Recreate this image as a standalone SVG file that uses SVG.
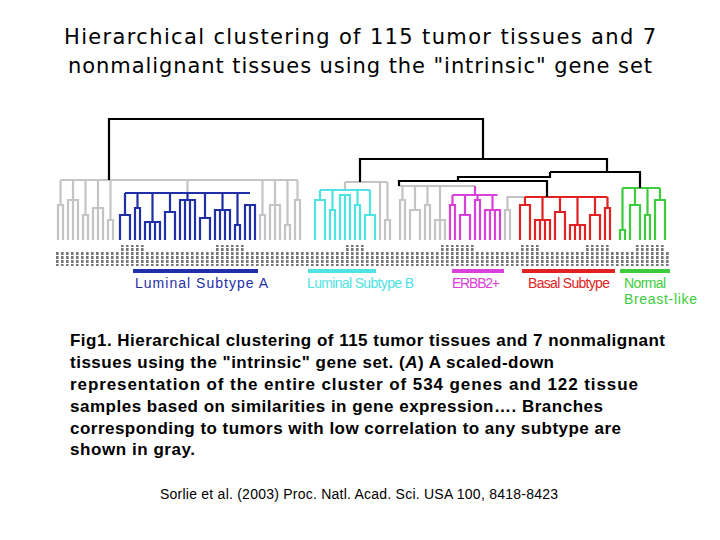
<svg xmlns="http://www.w3.org/2000/svg" width="720" height="540" viewBox="0 0 720 540">
<style>
.t{font-family:"DejaVu Sans",sans-serif;font-size:21px;fill:#000}
.c{font-family:"Liberation Sans",Arial,sans-serif;font-size:17px;font-weight:bold;fill:#000}
.l{font-family:"Liberation Sans",Arial,sans-serif;font-size:14px}
.d{fill:none;stroke-width:2.2}
.g{stroke:#c4c4c4}.b{stroke:#1f2fa8}.cy{stroke:#4fe3e3}.m{stroke:#d940d9}.r{stroke:#e02222}.gr{stroke:#3ccc3c}.k{stroke:#000}
</style>
<defs>
<pattern id="lbl" width="5" height="4" patternUnits="userSpaceOnUse"><rect x="1" y="0" width="2.6" height="3" fill="#777"/></pattern>
</defs>
<rect width="720" height="540" fill="#fff"/>
<text class="t" x="360" y="44" text-anchor="middle" textLength="592">Hierarchical clustering of 115 tumor tissues and 7</text>
<text class="t" x="360" y="73" text-anchor="middle" textLength="584">nonmalignant tissues using the "intrinsic" gene set</text>
<g id="dendrogram">
<path class="d g" d="M60.5 180H297.5M58 240V205H63V240M60.5 205V180M68 240V200H78V240M73 200V240M73 200V180M83 240V215H88V240M85.5 215V180M93 240V208H103V240M98 208V240M98 208V180M108 240V220H113V240M110.5 220V180M260 240V215H265V240M262.5 215V180M270 240V205H280V240M275 205V240M275 205V180M285 240V225H290V240M287.5 225V180M295 240V200H300V240M297.5 200V180M187.5 193V180"/>
<path class="d b" d="M125 193H250M120 240V215H130V240M125 215V193M135 240V208H140V240M137.5 208V193M145 240V222H160V240M150 222V240M155 222V240M152.5 222V193M165 240V212H175V240M170 212V193M180 240V200H195V240M185 200V240M190 200V240M187.5 200V193M200 240V218H210V240M205 218V193M215 240V210H230V240M220 210V240M225 210V240M222.5 210V193M235 240V225H240V240M237.5 225V193M245 240V205H255V240M250 205V240"/>
<path class="d g" d="M345 182H387.5M380 240V182M385 240V220H390V240M387.5 220V182M345 190V182"/>
<path class="d cy" d="M320 190H370M315 240V200H325V240M320 200V190M330 240V210H335V240M332.5 210V190M340 240V195H350V240M345 195V240M355 240V205H360V240M357.5 205V190M365 240V215H375V240M370 215V190"/>
<path class="d g" d="M399 186H475M400 240V200H405V240M402.5 200V186M410 240V210H420V240M415 210V186M425 240V205H430V240M427.5 205V186M435 240V220H445V240M440 220V240M440 220V186M505 240V210H510V240M507.5 210V197H525"/>
<path class="d m" d="M452.5 195H497.5M475 195V186M450 240V205H455V240M452.5 205V195M460 240V215H470V240M465 215V195M475 240V200H480V240M477.5 200V195M485 240V210H500V240M490 210V240M495 210V240M492.5 210V195"/>
<path class="d r" d="M525 197H607.5M520 240V205H530V240M525 205V197M535 240V220H550V240M540 220V240M545 220V240M542.5 220V197M555 240V212H565V240M560 212V197M570 240V225H585V240M575 225V240M580 225V240M577.5 225V197M590 240V215H600V240M595 215V197M605 240V208H610V240M607.5 208V197"/>
<path class="d gr" d="M622.5 188H660M620 240V230H625V240M622.5 230V188M630 240V205H640V240M635 205V188M645 240V215H650V240M647.5 215V188M655 240V200H665V240M660 200V188"/>
<path class="d k" d="M109 180V119H483V159M360 182V159H607V172M550 172H640V188M550 172V177H458V181M399 186V181H547V197"/>
</g>
<g id="labels">
<rect x="56" y="252" width="614" height="14" fill="url(#lbl)"/>
<rect x="120" y="245" width="25" height="7" fill="url(#lbl)"/>
<rect x="215" y="245" width="30" height="7" fill="url(#lbl)"/>
<rect x="345" y="245" width="20" height="7" fill="url(#lbl)"/>
<rect x="440" y="245" width="35" height="7" fill="url(#lbl)"/>
<rect x="520" y="245" width="20" height="7" fill="url(#lbl)"/>
<rect x="585" y="245" width="25" height="7" fill="url(#lbl)"/>
<rect x="635" y="245" width="30" height="7" fill="url(#lbl)"/>
</g>
<g id="subtypes">
<rect x="133" y="269" width="125" height="4" fill="#1f2fa8"/>
<rect x="308" y="269" width="68" height="4" fill="#4fe3e3"/>
<rect x="452" y="269" width="52" height="4" fill="#d940d9"/>
<rect x="522" y="269" width="93" height="4" fill="#e02222"/>
<rect x="620" y="269" width="50" height="4" fill="#3ccc3c"/>
<text class="l" x="135" y="288" fill="#1f2fa8" textLength="133">Luminal Subtype A</text>
<text class="l" x="307" y="288" fill="#4fe3e3" textLength="107">Luminal Subtype B</text>
<text class="l" x="452" y="288" fill="#d940d9" textLength="48">ERBB2+</text>
<text class="l" x="528" y="288" fill="#e02222" textLength="82">Basal Subtype</text>
<text class="l" x="624" y="288" fill="#3ccc3c" textLength="42">Normal</text>
<text class="l" x="624" y="304" fill="#3ccc3c" textLength="73">Breast-like</text>
</g>
<g id="caption">
<text class="c" x="70" y="346" textLength="595">Fig1. Hierarchical clustering of 115 tumor tissues and 7 nonmalignant</text>
<text class="c" x="70" y="368" textLength="484">tissues using the "intrinsic" gene set. (<tspan font-style="italic">A</tspan>) A scaled-down</text>
<text class="c" x="70" y="390" textLength="568">representation of the entire cluster of 534 genes and 122 tissue</text>
<text class="c" x="70" y="412" textLength="533">samples based on similarities in gene expression…. Branches</text>
<text class="c" x="70" y="434" textLength="551">corresponding to tumors with low correlation to any subtype are</text>
<text class="c" x="70" y="455" textLength="125">shown in gray.</text>
<text x="160" y="499" font-family="Liberation Sans, Arial, sans-serif" font-size="14" textLength="398">Sorlie et al. (2003) Proc. Natl. Acad. Sci. USA 100, 8418-8423</text>
</g>
</svg>
